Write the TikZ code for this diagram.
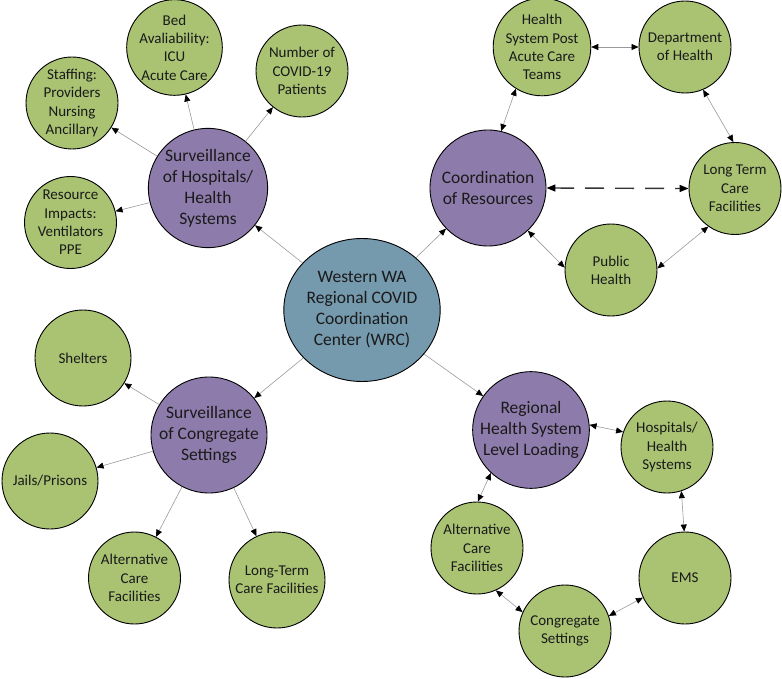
\documentclass[tikz,border=0pt]{standalone}
\usepackage{fontspec}
\setmainfont{Carlito}
\usetikzlibrary{arrows.meta,shapes.geometric}
\definecolor{gfill}{HTML}{A9C373}
\definecolor{pfill}{HTML}{8D7CAB}
\definecolor{bfill}{HTML}{7599AD}
\definecolor{txt}{HTML}{1A1A1A}
\definecolor{conn}{HTML}{9A9A9A}
\begin{document}
\begin{tikzpicture}[x=1pt,y=-1pt,
 gnode/.style={circle,draw=black,line width=0.9pt,fill=gfill,minimum size=92pt,inner sep=0pt,align=center,font=\fontsize{15}{18.3}\selectfont,text=txt},
 gbig/.style={gnode,minimum size=96pt},
 pnode/.style={circle,draw=black,line width=0.9pt,fill=pfill,minimum size=116pt,inner sep=0pt,align=center,font=\fontsize{17.5}{21}\selectfont,text=txt},
 cnode/.style={ellipse,draw=black,line width=0.9pt,fill=bfill,minimum width=150pt,minimum height=143pt,inner sep=0pt,align=center,font=\fontsize{17.5}{21}\selectfont,text=txt},
 tip/.style={-{Triangle[length=7pt,width=6pt,black]}},
 both/.style={{Triangle[length=7pt,width=6pt,black]}-{Triangle[length=7pt,width=6pt,black]}},
 bothbig/.style={{Triangle[length=9pt,width=7pt,black]}-{Triangle[length=9pt,width=7pt,black]}},
 link/.style={draw=conn,line width=0.6pt},
 dashlink/.style={draw=black!80,line width=1.4pt,dash pattern=on 19pt off 11pt}
]
\useasboundingbox (0,0) rectangle (782,679);

% central and main nodes
\node[cnode] (wrc) at (362,310) {Western WA\\Regional COVID\\Coordination\\Center (WRC)};
\node[pnode] (sh) at (208,188) {Surveillance\\of Hospitals/\\Health\\Systems};
\node[pnode] (cr) at (488,188) {Coordination\\of Resources};
\node[pnode] (sc) at (209,435) {Surveillance\\of Congregate\\Settings};
\node[pnode] (rl) at (531,430) {Regional\\Health System\\Level Loading};

% hospital surveillance leaves
\node[gnode] (bed) at (174.5,47.5) {Bed\\Avaliability:\\ICU\\Acute Care};
\node[gnode] (num) at (302,71) {Number of\\COVID-19\\Patients};
\node[gnode] (staff) at (72,103) {Staffing:\\Providers\\Nursing\\Ancillary};
\node[gnode] (res) at (70.5,222.5) {Resource\\Impacts:\\Ventilators\\PPE};

% coordination ring
\node[gnode] (hsp) at (542,47) {Health\\System Post\\Acute Care\\Teams};
\node[gnode] (doh) at (685,47) {Department\\of Health};
\node[gnode] (ltc) at (735,188.5) {Long Term\\Care\\Facilities};
\node[gnode] (ph) at (611,270) {Public\\Health};

% congregate leaves
\node[gbig] (shel) at (83,358) {Shelters};
\node[gbig] (jail) at (50,481) {Jails/Prisons};
\node[gnode] (altl) at (134.5,578) {Alternative\\Care\\Facilities};
\node[gbig] (ltcl) at (277,580) {Long-Term\\Care Facilities};

% loading ring
\node[gnode] (hosp) at (667,447) {Hospitals/\\Health\\Systems};
\node[gnode] (altr) at (477,548) {Alternative\\Care\\Facilities};
\node[gnode] (ems) at (685,578) {EMS};
\node[gnode] (cong) at (565,631) {Congregate\\Settings};

% connectors from centre
\draw[link,tip] (wrc) -- (sh);
\draw[link,tip] (wrc) -- (cr);
\draw[link,tip] (wrc) -- (sc);
\draw[link,tip] (wrc) -- (rl);

% hospital surveillance
\draw[link,tip] (sh) -- (bed);
\draw[link,tip] (sh) -- (num);
\draw[link,tip] (sh) -- (staff);
\draw[link,tip] (sh) -- (res);

% congregate surveillance
\draw[link,tip] (sc) -- (shel);
\draw[link,tip] (sc) -- (jail);
\draw[link,tip] (sc) -- (altl);
\draw[link,tip] (sc) -- (ltcl);

% coordination ring
\draw[link,both] (hsp.0) -- (doh.180);
\draw[link,both] (hsp.238.6) -- (cr.77.9);
\draw[link,both] (doh.-67) -- (ltc.92);
\draw[link,both] (cr.-47) -- (ph.177);
\draw[link,both] (ph.2.4) -- (ltc.235.6);
\draw[dashlink,bothbig] (cr.0) -- (ltc.180);

% loading ring
\draw[link,both] (rl.5) -- (hosp.161);
\draw[link,both] (hosp.-72.7) -- (ems.91);
\draw[link,both] (ems.205) -- (cong.19);
\draw[link,both] (cong.156) -- (altr.-66.6);
\draw[link,both] (altr.89) -- (rl.227);
\end{tikzpicture}
\end{document}
